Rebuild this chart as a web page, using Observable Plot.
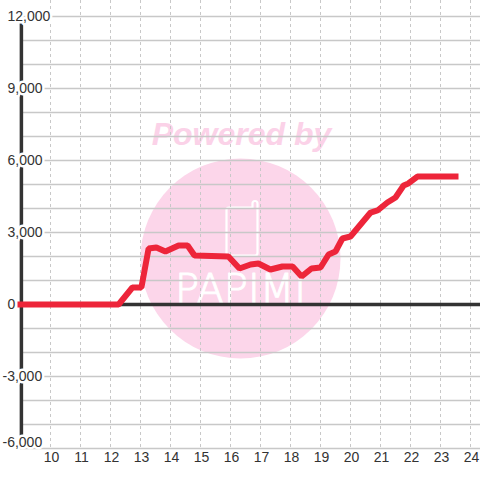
<!DOCTYPE html>
<html>
<head>
<meta charset="utf-8">
<script src="https://cdn.jsdelivr.net/npm/d3@7"></script>
<script src="https://cdn.jsdelivr.net/npm/@observablehq/plot@0.6"></script>
<style>
  html, body { margin: 0; padding: 0; background: white; }
</style>
</head>
<body>
<div id="chart"></div>
<script>
// Hours of the day and cumulative values
const times = [9.0, 12.27, 12.73, 13.03, 13.27, 13.53, 13.83, 14.27, 14.57, 14.8, 15.93, 16.3, 16.67, 16.93, 17.33, 17.73, 18.07, 18.37, 18.7, 19.0, 19.27, 19.5, 19.73, 20.0, 20.67, 20.9, 21.23, 21.5, 21.77, 21.93, 22.23, 23.5];
const values = [0, 0, 708, 708, 2333, 2375, 2208, 2458, 2458, 2042, 2000, 1500, 1667, 1708, 1458, 1583, 1583, 1167, 1500, 1542, 2083, 2208, 2750, 2833, 3833, 3917, 4250, 4458, 4958, 5042, 5333, 5333];
const xTicks = [10, 11, 12, 13, 14, 15, 16, 17, 18, 19, 20, 21, 22, 23, 24];
const yGrid = [-6000, -5000, -4000, -3000, -2000, -1000, 0, 1000, 2000, 3000, 4000, 5000, 6000, 7000, 8000, 9000, 10000, 11000, 12000];
const yLabels = [-6000, -3000, 0, 3000, 6000, 9000, 12000];

const data = times.map((t, i) => ({t, v: values[i]}));
const fmt = d => d3.format(",")(d).replace("\u2212", "-");

const phone = {
  draw(c) {
    c.moveTo(10.5, -24);
    c.lineTo(-13, -24);
    c.quadraticCurveTo(-15.5, -24, -15.5, -21.5);
    c.lineTo(-15.5, 21.5);
    c.quadraticCurveTo(-15.5, 24, -13, 24);
    c.lineTo(13, 24);
    c.quadraticCurveTo(15.5, 24, 15.5, 21.5);
    c.lineTo(15.5, -28);
    c.quadraticCurveTo(15.5, -30.5, 13, -30.5);
    c.quadraticCurveTo(10.5, -30.5, 10.5, -28);
    c.closePath();
  }
};

const chart = Plot.plot({
  width: 480,
  height: 480,
  marginLeft: 20,
  marginRight: 0,
  marginTop: 16,
  marginBottom: 32,
  style: {background: "white", fontFamily: "'Liberation Sans', Arial, sans-serif", fontSize: "14px", color: "#333"},
  x: {domain: [9, 24.3333], axis: null},
  y: {domain: [-6000, 12000], axis: null},
  marks: [
    // watermark
    Plot.dot([0], {frameAnchor: "middle", dx: -10, dy: 26, r: 100, fill: "#fcd6ea", stroke: null}),
    Plot.text(["Powered by"], {frameAnchor: "middle", text: d => d, dx: -9, dy: -98, fill: "#fbd2e8", fontSize: 32, fontWeight: "bold", fontStyle: "italic"}),
    Plot.dot([0], {frameAnchor: "middle", dx: -8.5, dy: -1, r: 10, symbol: phone, fill: "none", stroke: "white", strokeWidth: 2.2}),
    Plot.text(["PAPIMI"], {frameAnchor: "middle", text: d => d, dx: -10, dy: 58, fill: "white", stroke: "white", strokeWidth: 1, fontSize: 40, fontFamily: "DejaVu Sans", fontWeight: 200}),
    // grid
    Plot.ruleX(xTicks, {x: d => d, stroke: "#c8c8c8", strokeWidth: 1, strokeDasharray: "3,3", insetTop: -16}),
    Plot.ruleY(yGrid, {y: d => d, stroke: "#c8c8c8", strokeWidth: 1.3}),
    Plot.ruleY([0], {y: d => d, stroke: "#333", strokeWidth: 3.5}),
    Plot.ruleX([9.03], {x: d => d, stroke: "#333", strokeWidth: 3.5}),
    // y labels with white mask
    Plot.text(yLabels.filter(v => v >= 0), {y: d => d, frameAnchor: "left", dx: -13, textAnchor: "start", text: fmt, fill: "#333", stroke: "white", strokeWidth: 5, fontSize: 14}),
    Plot.text(yLabels.filter(v => v < 0 && v > -6000), {y: d => d, frameAnchor: "left", dx: -18, textAnchor: "start", text: fmt, fill: "#333", stroke: "white", strokeWidth: 5, fontSize: 14}),
    Plot.text(yLabels.filter(v => v === -6000), {y: d => d, frameAnchor: "left", dx: -18, dy: -6, textAnchor: "start", text: fmt, fill: "#333", stroke: "white", strokeWidth: 5, fontSize: 14}),
    // x labels
    Plot.text(xTicks, {x: d => d, frameAnchor: "bottom", dx: 1, dy: 13, text: d => String(d), fill: "#333", fontSize: 14}),
    // series
    Plot.line(data, {x: "t", y: "v", stroke: "#ed253a", strokeWidth: 6, strokeLinejoin: "miter", strokeLinecap: "square"})
  ]
});
document.getElementById("chart").appendChild(chart);
</script>
</body>
</html>
